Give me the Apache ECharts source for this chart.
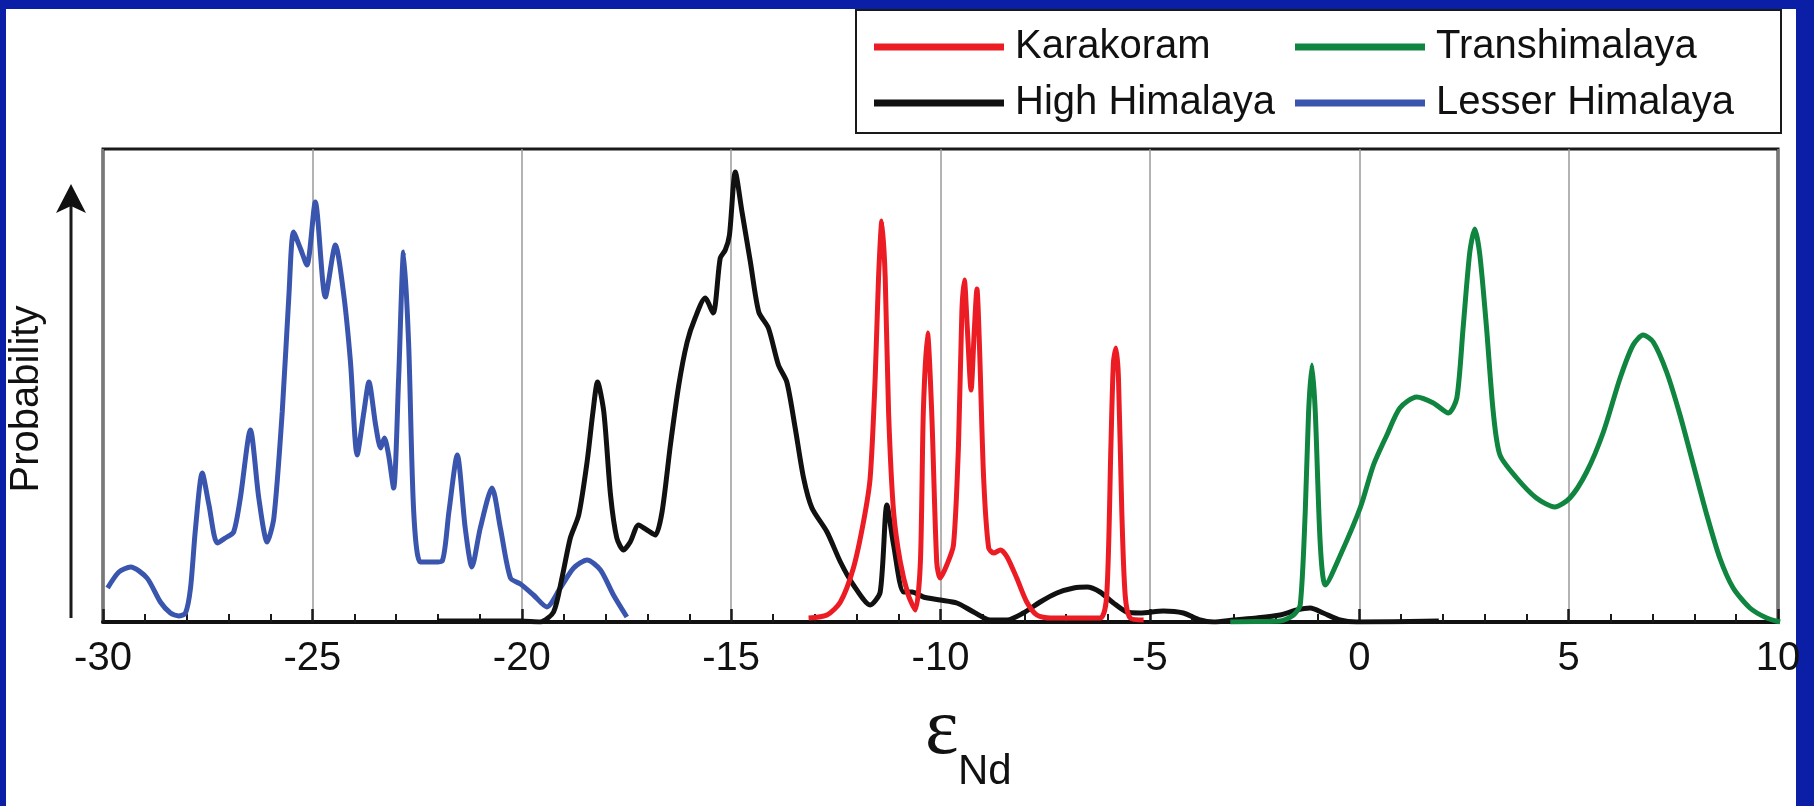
<!DOCTYPE html>
<html>
<head>
<meta charset="utf-8">
<title>eNd probability</title>
<script src="https://cdn.jsdelivr.net/npm/echarts@6/dist/echarts.min.js"></script>
<style>
  html, body { margin: 0; padding: 0; background: #fff; }
  #chart { width: 1814px; height: 806px; }
</style>
</head>
<body>
<div id="chart"></div>
<script>
// [epsilon Nd, relative probability]
const lesserHimalaya = [
  [-29.89, 34], [-29.62, 50], [-29.34, 55], [-28.95, 44], [-28.63, 20], [-28.39, 9], [-28.19, 6],
  [-28.03, 9], [-27.91, 34], [-27.79, 94], [-27.63, 149], [-27.47, 117], [-27.27, 79], [-27.08, 84],
  [-26.88, 90], [-26.72, 124], [-26.48, 192], [-26.28, 124], [-26.08, 80], [-25.92, 104], [-25.72, 210],
  [-25.56, 327], [-25.45, 390], [-25.29, 374], [-25.13, 357], [-24.93, 420], [-24.69, 325], [-24.45, 377],
  [-24.25, 327], [-24.09, 260], [-23.93, 167], [-23.77, 210], [-23.65, 240], [-23.49, 197], [-23.37, 174],
  [-23.28, 184], [-23.18, 167], [-23.06, 134], [-22.94, 244], [-22.82, 370], [-22.70, 277], [-22.58, 110],
  [-22.42, 60], [-22.10, 60], [-21.90, 61], [-21.74, 110], [-21.54, 167], [-21.35, 94], [-21.19, 55],
  [-20.99, 94], [-20.71, 134], [-20.51, 94], [-20.27, 44], [-20.03, 38], [-19.72, 27], [-19.40, 15],
  [-19.08, 34], [-18.76, 54], [-18.44, 62], [-18.12, 52], [-17.81, 27], [-17.49, 5]
]

const highHimalaya = [
  [-22.02, 1], [-20.03, 1], [-19.56, 0], [-19.24, 10], [-19.04, 44], [-18.84, 84], [-18.64, 107],
  [-18.44, 160], [-18.30, 210], [-18.19, 240], [-18.04, 210], [-17.88, 127], [-17.73, 84], [-17.57, 72],
  [-17.41, 80], [-17.21, 97], [-17.01, 92], [-16.81, 87], [-16.65, 110], [-16.45, 177], [-16.25, 237],
  [-16.05, 280], [-15.86, 304], [-15.62, 324], [-15.43, 309], [-15.26, 364], [-15.14, 372], [-15.04, 387],
  [-14.90, 450], [-14.74, 410], [-14.54, 360], [-14.34, 310], [-14.11, 294], [-13.87, 257], [-13.67, 240],
  [-13.47, 194], [-13.27, 144], [-13.07, 114], [-12.71, 90], [-12.39, 60], [-12.08, 37], [-11.68, 17],
  [-11.44, 30], [-11.28, 117], [-11.12, 77], [-10.88, 30], [-10.68, 30], [-10.41, 25], [-10.01, 22],
  [-9.61, 19], [-9.21, 10], [-8.81, 2], [-8.41, 2], [-8.02, 9], [-7.62, 20], [-7.22, 29], [-6.82, 34],
  [-6.50, 35], [-6.19, 30], [-5.87, 19], [-5.55, 10], [-5.23, 9], [-4.68, 11], [-4.20, 9], [-3.80, 2],
  [-3.48, 0], [-3.00, 2], [-2.45, 4], [-1.89, 7], [-1.49, 12], [-1.17, 14], [-0.86, 9], [-0.46, 2],
  [-0.06, 0], [1.90, 1]
]

const karakoram = [
  [-13.15, 4], [-12.71, 7], [-12.39, 20], [-12.08, 54], [-11.84, 100], [-11.68, 144], [-11.56, 244],
  [-11.48, 344], [-11.40, 401], [-11.32, 344], [-11.24, 210], [-11.12, 110], [-10.96, 60], [-10.77, 27],
  [-10.60, 12], [-10.48, 60], [-10.41, 210], [-10.31, 289], [-10.21, 210], [-10.09, 60], [-10.01, 44],
  [-9.85, 57], [-9.69, 77], [-9.57, 177], [-9.49, 310], [-9.43, 342], [-9.36, 294], [-9.27, 232],
  [-9.19, 294], [-9.13, 333], [-9.07, 277], [-8.97, 144], [-8.85, 74], [-8.73, 69], [-8.57, 72],
  [-8.41, 65], [-8.18, 44], [-7.94, 20], [-7.70, 7], [-7.38, 4], [-6.19, 4], [-6.03, 27], [-5.93, 177],
  [-5.87, 260], [-5.81, 274], [-5.75, 244], [-5.67, 110], [-5.59, 27], [-5.47, 4], [-5.15, 2]
]

const transhimalaya = [
  [-3.08, 0], [-2.45, 0.5], [-1.89, 1], [-1.57, 7], [-1.41, 17], [-1.29, 110], [-1.21, 210], [-1.13, 257],
  [-1.05, 210], [-0.93, 77], [-0.81, 37], [-0.45, 67], [0.03, 115], [0.34, 157], [0.66, 187], [0.97, 214],
  [1.37, 225], [1.77, 219], [2.13, 209], [2.33, 224], [2.48, 294], [2.64, 370], [2.76, 393], [2.88, 367],
  [3.04, 294], [3.20, 210], [3.36, 167], [3.76, 144], [4.23, 124], [4.67, 115], [5.03, 124], [5.43, 150],
  [5.83, 190], [6.23, 244], [6.54, 277], [6.78, 287], [7.02, 280], [7.34, 250], [7.66, 207], [7.98, 157],
  [8.30, 107], [8.61, 64], [8.93, 34], [9.33, 14], [9.73, 4], [10.05, 0]
]

const legendLeftColumn = ['Karakoram', 'High Himalaya']
const legendRightColumn = ['Transhimalaya', 'Lesser Himalaya']

const font = "'Liberation Sans', Arial, Helvetica, sans-serif"
const frameBlue = '#0a1ea6'

function curve(name, data, color) {
  return {
    name: name,
    type: 'line',
    data: data,
    showSymbol: false,
    smooth: 0.25,
    color: color,
    itemStyle: { color: color },
    lineStyle: { color: color, width: 5 }
  }
}

function legendColumn(names, left) {
  return {
    data: names,
    left: left,
    top: 24,
    orient: 'vertical',
    icon: 'rect',
    itemWidth: 130,
    itemHeight: 7,
    itemGap: 10,
    padding: 0,
    selectedMode: false,
    textStyle: {
      fontFamily: font,
      fontSize: 40,
      color: '#111',
      lineHeight: 46,
      padding: [0, 0, 0, 6]
    }
  }
}

const chart = echarts.init(document.getElementById('chart'))

const options = {
  backgroundColor: '#ffffff',
  animation: false,
  textStyle: { fontFamily: font },
  grid: {
    left: 103,
    right: 36,
    top: 149,
    bottom: 184,
    show: true,
    borderColor: '#1a1a1a',
    borderWidth: 3
  },
  legend: [
    legendColumn(legendLeftColumn, 874),
    legendColumn(legendRightColumn, 1295)
  ],
  xAxis: {
    type: 'value',
    min: -30,
    max: 10,
    interval: 5,
    axisLine: { show: true, lineStyle: { color: '#111', width: 4 } },
    axisTick: { show: true, inside: true, length: 13, lineStyle: { color: '#1a1a1a', width: 2.5 } },
    minorTick: { show: true, splitNumber: 5, length: 8, lineStyle: { color: '#1a1a1a', width: 2 } },
    splitLine: { show: true, lineStyle: { color: '#9a9a9a', width: 1.5 } },
    axisLabel: { fontSize: 40, color: '#111', margin: 17, fontFamily: font }
  },
  yAxis: {
    type: 'value',
    min: 0,
    max: 473,
    axisLine: { show: false },
    axisTick: { show: false },
    axisLabel: { show: false },
    splitLine: { show: false }
  },
  graphic: [
    // blue frame round the slide
    { type: 'rect', shape: { x: 0, y: 0, width: 1814, height: 9 }, style: { fill: frameBlue } },
    { type: 'rect', shape: { x: 0, y: 0, width: 6, height: 806 }, style: { fill: frameBlue } },
    { type: 'rect', shape: { x: 1796, y: 0, width: 18, height: 806 }, style: { fill: frameBlue } },
    // legend box
    { type: 'rect', shape: { x: 856, y: 10, width: 925, height: 123 }, style: { fill: null, stroke: '#1a1a1a', lineWidth: 2 } },
    // probability arrow
    { type: 'line', shape: { x1: 71, y1: 618, x2: 71, y2: 200 }, style: { stroke: '#1a1a1a', lineWidth: 3 } },
    { type: 'polygon', shape: { points: [[71, 184], [56, 213], [71, 206], [86, 213]] }, style: { fill: '#111' } },
    {
      type: 'text', x: 27, y: 399, rotation: Math.PI / 2,
      style: { text: 'Probability', font: '40px ' + font, fill: '#111', textAlign: 'center', textVerticalAlign: 'middle' }
    },
    {
      type: 'text', x: 925, y: 732,
      style: { text: 'ε', font: '80px "Liberation Serif", "Times New Roman", serif', fill: '#111', textAlign: 'left', textVerticalAlign: 'middle' }
    },
    {
      type: 'text', x: 958, y: 772,
      style: { text: 'Nd', font: '42px ' + font, fill: '#111', textAlign: 'left', textVerticalAlign: 'middle' }
    }
  ],
  series: [
    curve('Lesser Himalaya', lesserHimalaya, '#3a55ad'),
    curve('High Himalaya', highHimalaya, '#111111'),
    curve('Karakoram', karakoram, '#ec1c24'),
    curve('Transhimalaya', transhimalaya, '#0f8540')
  ]
}

chart.setOption(options)
</script>
</body>
</html>
